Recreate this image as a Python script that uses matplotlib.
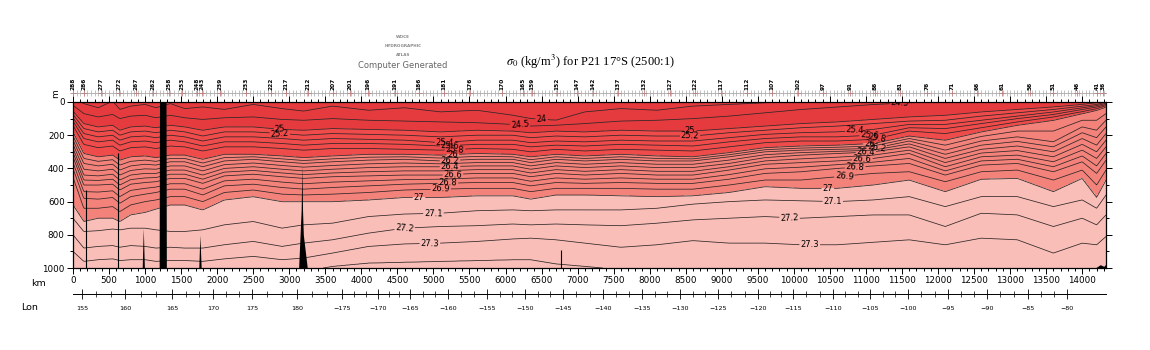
import numpy as np
import matplotlib
matplotlib.use('Agg')
import matplotlib.pyplot as plt
from matplotlib.ticker import MultipleLocator

# section nodes (km along track) and depth (m) of each isopycnal at the nodes
node_km = [0, 150, 350, 550, 650, 800, 1000, 1150, 1350, 1550,
           1800, 2100, 2500, 2900, 3200, 3600, 4100, 4600, 5100, 5600,
           6100, 6350, 6700, 7100, 7600, 8100, 8600, 9100, 9600, 10100,
           10600, 11100, 11600, 12100, 12600, 13100, 13600, 14000, 14200, 14330]

sig_levels = [24.0, 24.5, 25.0, 25.2, 25.4, 25.6, 25.8, 26.0, 26.2, 26.4,
              26.6, 26.8, 26.9, 27.0, 27.1, 27.2, 27.3, 27.4]

d24_0 = [-30, 10, 35, -5, 45, 25, 15, 35, 10, 40, 30, 45, 15, 40, 55, 25, 50, 35, 60, 50,
         80, 100, 110, 60, 40, 50, 25, 15, 5, -10, -25, -45, -65, -85, -105, -130, -160, -190, -210, -230]
d24_5 = [20, 70, 90, 75, 100, 85, 80, 95, 80, 95, 105, 95, 90, 105, 110, 100, 110, 115, 120, 125,
         135, 145, 140, 130, 115, 110, 100, 85, 65, 45, 30, 15, 5, -10, -30, -50, -80, -100, -120, -140]
d25_0 = [55, 130, 150, 140, 170, 150, 145, 155, 140, 150, 170, 150, 150, 165, 170, 160, 165, 170, 180, 170,
         175, 185, 175, 180, 170, 175, 175, 160, 145, 130, 120, 105, 90, 80, 60, 45, 30, 15, 5, -10]
d25_2 = [75, 160, 180, 170, 200, 180, 175, 185, 170, 180, 205, 180, 180, 190, 200, 190, 195, 200, 210, 200,
         200, 215, 205, 210, 200, 205, 205, 185, 170, 155, 145, 130, 115, 110, 85, 65, 45, 25, 15, 0]
d25_4 = [95, 190, 210, 200, 230, 210, 205, 215, 200, 210, 235, 210, 210, 220, 230, 220, 225, 230, 245, 230,
         230, 245, 235, 240, 230, 235, 235, 215, 195, 185, 180, 165, 135, 135, 110, 85, 60, 35, 22, 8]
d25_6 = [115, 220, 240, 230, 260, 240, 235, 245, 230, 240, 265, 240, 240, 250, 260, 250, 250, 255, 265, 255,
         255, 270, 260, 265, 255, 260, 265, 240, 220, 210, 210, 200, 155, 160, 130, 100, 75, 45, 30, 15]
d25_8 = [140, 255, 275, 265, 295, 275, 270, 280, 265, 270, 295, 270, 270, 280, 290, 280, 280, 285, 290, 280,
         285, 300, 285, 295, 285, 290, 295, 270, 245, 235, 235, 225, 175, 190, 155, 120, 90, 58, 40, 22]
d26_0 = [180, 310, 330, 320, 350, 330, 325, 335, 320, 320, 345, 315, 315, 325, 335, 325, 315, 315, 320, 310,
         315, 330, 315, 325, 315, 325, 330, 305, 275, 265, 260, 250, 205, 230, 180, 140, 110, 70, 50, 30]
d26_2 = [230, 370, 385, 375, 410, 385, 375, 380, 360, 360, 390, 355, 345, 360, 370, 360, 350, 345, 355, 345,
         345, 365, 345, 355, 345, 355, 355, 330, 300, 290, 285, 280, 235, 290, 235, 210, 240, 150, 170, 110]
d26_4 = [280, 440, 445, 435, 470, 440, 430, 430, 410, 410, 440, 400, 390, 405, 415, 405, 395, 390, 390, 385,
         385, 405, 385, 395, 385, 395, 395, 370, 335, 320, 310, 300, 270, 340, 285, 265, 300, 220, 260, 190]
d26_6 = [330, 500, 500, 495, 530, 495, 485, 480, 460, 460, 490, 445, 435, 450, 460, 450, 445, 440, 440, 430,
         430, 450, 430, 440, 430, 440, 440, 410, 375, 365, 355, 340, 310, 390, 330, 320, 360, 290, 340, 270]
d26_8 = [400, 580, 585, 575, 610, 570, 555, 545, 525, 525, 560, 505, 495, 515, 525, 515, 505, 495, 490, 485,
         485, 505, 485, 490, 485, 490, 490, 465, 430, 420, 400, 385, 370, 440, 380, 370, 420, 360, 430, 350]
d26_9 = [450, 640, 640, 630, 660, 620, 600, 590, 570, 570, 600, 545, 530, 555, 560, 555, 545, 530, 525, 520,
         520, 540, 520, 520, 520, 525, 525, 500, 470, 470, 450, 430, 420, 480, 420, 410, 470, 410, 500, 410]
d27_0 = [620, 720, 700, 700, 720, 680, 665, 645, 620, 620, 650, 590, 570, 600, 600, 600, 590, 575, 575, 565,
         565, 585, 560, 560, 565, 570, 565, 545, 510, 520, 520, 500, 470, 540, 465, 460, 540, 460, 575, 470]
d27_1 = [700, 780, 775, 765, 770, 760, 760, 770, 780, 780, 770, 740, 720, 760, 740, 730, 690, 675, 670, 655,
         650, 655, 650, 650, 650, 640, 615, 600, 590, 595, 600, 590, 570, 630, 570, 570, 630, 590, 640, 560]
d27_2 = [800, 880, 870, 865, 875, 865, 870, 880, 875, 880, 880, 860, 840, 870, 850, 830, 790, 760, 750, 745,
         735, 740, 735, 740, 745, 730, 710, 700, 690, 700, 690, 680, 680, 750, 670, 680, 750, 700, 740, 680]
d27_3 = [900, 960, 950, 945, 955, 950, 950, 960, 955, 955, 960, 945, 930, 950, 940, 910, 870, 855, 850, 840,
         825, 820, 830, 850, 875, 860, 835, 850, 850, 860, 860, 845, 830, 860, 820, 830, 910, 850, 860, 810]
d27_4 = [1000, 1050, 1040, 1030, 1040, 1040, 1030, 1040, 1040, 1030, 1040, 1020, 1000, 1030, 1020, 990, 970, 965, 960, 955,
         950, 950, 975, 990, 1010, 1020, 1020, 1040, 1050, 1060, 1060, 1060, 1060, 1060, 1050, 1060, 1080, 1060, 1040, 1030]

isopycnals = [d24_0, d24_5, d25_0, d25_2, d25_4, d25_6, d25_8, d26_0, d26_2, d26_4,
              d26_6, d26_8, d26_9, d27_0, d27_1, d27_2, d27_3, d27_4]

fill_levels = [20, 25, 26, 27, 30]
fill_colors = ['#e63b3e', '#ef4b4b', '#f3827a', '#f9beb8']
line_levels = [24, 24.5, 25, 25.2, 25.4, 25.6, 25.8, 26, 26.1, 26.2, 26.3, 26.4, 26.5,
               26.6, 26.7, 26.8, 26.9, 27, 27.1, 27.2, 27.3, 27.4]

# seafloor along the section
bathy_km = [0, 960, 975, 990, 1195, 1200, 1290, 1295, 1745, 1760, 1778,
            3130, 3165, 3176, 3184, 3195, 3250, 14180, 14250, 14300, 14330]
bathy_depth = [1000, 1000, 760, 1000, 1000, 0, 0, 1000, 1000, 800, 1000,
               1000, 650, 380, 650, 800, 1000, 1000, 980, 990, 975]
wall_km = [180, 630, 6770]
wall_top = [530, 310, 890]

stn_labels = [288, 286, 277, 272, 267, 262, 258, 253, 248, 243, 239, 233, 222, 217, 212, 207, 201,
              196, 191, 186, 181, 176, 170, 165, 159, 152, 147, 142, 137, 132, 127, 122, 117, 112,
              107, 102, 97, 91, 86, 81, 76, 71, 66, 61, 56, 51, 46, 41, 36]
stn_km = [0, 153, 388, 638, 874, 1110, 1331, 1512, 1720, 1789, 2039, 2400, 2746, 2954, 3259, 3606,
          3842, 4092, 4466, 4799, 5146, 5507, 5950, 6241, 6366, 6713, 6990, 7212, 7559, 7920, 8280,
          8627, 8988, 9348, 9695, 10055, 10402, 10777, 11123, 11470, 11845, 12191, 12538, 12885,
          13273, 13592, 13925, 14202, 14285]

lon_labels = [155, 160, 165, 170, 175, 180, -175, -170, -165, -160, -155, -150, -145, -140,
              -135, -130, -125, -120, -115, -110, -105, -100, -95, -90, -85, -80]
lon_km = [125, 721, 1373, 1942, 2483, 3107, 3731, 4230, 4674, 5201, 5742, 6269, 6796, 7351,
          7892, 8419, 8946, 9501, 9986, 10541, 11054, 11581, 12136, 12677, 13245, 13786]

label_pts = [(2870, 165), (2870, 185), (8560, 175), (8560, 200), (6200, 140), (6500, 110),
             (11470, 10),
             (5160, 250), (5230, 270), (5300, 290), (5270, 320), (5230, 355), (5230, 390),
             (5270, 440), (5200, 490), (5100, 522), (4800, 575), (5000, 670), (4600, 760),
             (4950, 850),
             (10850, 172), (11050, 205), (11150, 228), (11050, 255), (11150, 280), (11000, 305),
             (10950, 350), (10850, 390), (10700, 440), (10470, 515), (10540, 600), (9940, 700),
             (10220, 860)]

xmax = 14330

# gridded sigma field rebuilt from the isopycnal depths
xg = np.linspace(0, xmax, 1200)
zg = np.linspace(0, 1000, 400)
D = np.maximum.accumulate(np.array(isopycnals, float), axis=0)
D = D + np.arange(len(D))[:, None] * 1e-3
Dx = np.array([np.interp(xg, node_km, row) for row in D])
lev = np.r_[22.0, sig_levels, 27.9]
S = np.empty((zg.size, xg.size))
for j in range(xg.size):
    S[:, j] = np.interp(zg, np.r_[-600.0, Dx[:, j], 2500.0], lev)

plt.rcParams['mathtext.fontset'] = 'stix'
fig = plt.figure(figsize=(11.5, 3.5), dpi=100)
ax = fig.add_axes([73 / 1150, 82 / 350, 1033 / 1150, 166 / 350])

ax.contourf(xg, zg, S, levels=fill_levels, colors=fill_colors)
cs = ax.contour(xg, zg, S, levels=line_levels, colors='#2e2626', linewidths=0.55)
ax.clabel(cs, manual=label_pts, fmt='%g', fontsize=6, inline=True, inline_spacing=1,
          colors='black')
ax.fill_between(bathy_km, bathy_depth, 1000, color='black', lw=0, zorder=3)
ax.vlines(wall_km, wall_top, 1000, color='black', lw=0.8, zorder=3)

ax.set_xlim(0, xmax)
ax.set_ylim(1000, 0)
ax.xaxis.set_major_locator(MultipleLocator(500))
ax.xaxis.set_minor_locator(MultipleLocator(100))
ax.yaxis.set_major_locator(MultipleLocator(200))
ax.yaxis.set_minor_locator(MultipleLocator(100))
ax.tick_params(which='both', direction='out', top=True, right=True, labeltop=False,
               labelright=False, labelsize=6.3, pad=2, width=0.7)
ax.tick_params(which='major', length=4)
ax.tick_params(which='minor', length=2.5)
for s in ax.spines.values():
    s.set_linewidth(0.9)
ax.text(-0.017, 1.05, 'm', transform=ax.transAxes, rotation=90, ha='center',
        va='center', fontsize=6.5)

# station row above the section
sec = ax.secondary_xaxis(1.055)
sec.spines['top'].set_color('#aaaaaa')
sec.spines['top'].set_linewidth(0.6)
sec.xaxis.set_major_locator(MultipleLocator(50))
sec.tick_params(direction='inout', length=4, width=0.5, color='#aaaaaa', labeltop=False)
ax.plot(stn_km, [-54] * len(stn_km), '+', ms=4, mew=0.6, color='#c08080', clip_on=False)
for km, lab in zip(stn_km, stn_labels):
    ax.text(km, -72, str(lab), rotation=90, ha='center', va='bottom', fontsize=4.2,
            fontweight='bold', clip_on=False)

# longitude axis
ax_lon = fig.add_axes([73 / 1150, 56 / 350, 1033 / 1150, 1e-4])
ax_lon.set_xlim(0, xmax)
for s in ['top', 'left', 'right']:
    ax_lon.spines[s].set_visible(False)
ax_lon.spines['bottom'].set_linewidth(0.7)
ax_lon.set_yticks([])
ax_lon.set_xticks(lon_km)
ax_lon.set_xticklabels([str(v) if v > 0 else '\u2212' + str(-v) for v in lon_labels])
minor_lon = []
for a, b in zip(lon_km[:-1], lon_km[1:]):
    minor_lon += [a + (b - a) / 3, a + 2 * (b - a) / 3]
ax_lon.set_xticks(minor_lon, minor=True)
ax_lon.tick_params(which='major', direction='inout', length=7, width=0.6, labelsize=4.6, pad=5)
ax_lon.tick_params(which='minor', direction='inout', length=5, width=0.5)

fig.text(38 / 1150, 1 - 284 / 350, 'km', ha='center', va='center', fontsize=6.8)
fig.text(30 / 1150, 1 - 307 / 350, 'Lon', ha='center', va='center', fontsize=6.8)

fig.text(590 / 1150, 1 - 62 / 350, r'$\sigma_0$ (kg/m$^3$) for P21 17°S (2500:1)',
         ha='center', va='center', fontsize=9, family='Liberation Serif')
for txt, yy in [('WOCE', 37), ('HYDROGRAPHIC', 46), ('ATLAS', 55)]:
    fig.text(403 / 1150, 1 - yy / 350, txt, ha='center', va='center', fontsize=3,
             fontweight='bold', color='#888888')
fig.text(403 / 1150, 1 - 65 / 350, 'Computer Generated', ha='center', va='center',
         fontsize=6, color='#666666')

fig.savefig('out.png', dpi=100)
